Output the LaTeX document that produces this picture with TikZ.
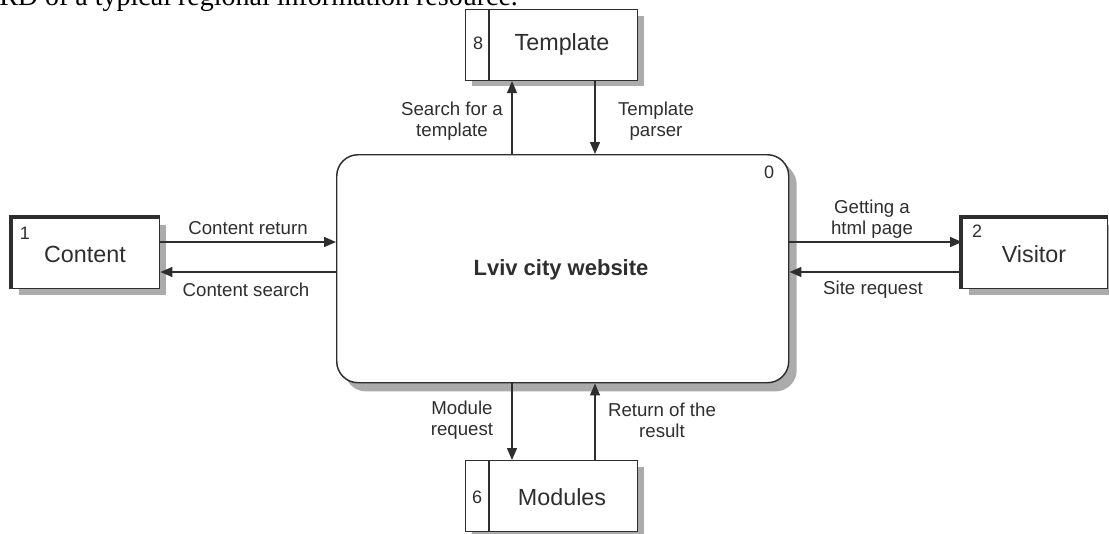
\documentclass[tikz,border=0pt]{standalone}
\usepackage{fontspec}
\setmainfont{Liberation Sans}
\newfontfamily\captionserif{Liberation Serif}
\usetikzlibrary{arrows.meta,shadows}

\definecolor{ink}{HTML}{2E2E2E}
\definecolor{shade}{HTML}{ABABAB}

\begin{document}
\begin{tikzpicture}[x=0.75pt,y=-0.75pt,
  box/.style={draw=ink, line width=1.1pt, fill=white, inner sep=0pt, anchor=north west,
    drop shadow={shadow xshift=4.5pt, shadow yshift=-4.5pt, fill=shade, opacity=1}},
  procbox/.style={box, rounded corners=16pt,
    drop shadow={shadow xshift=6pt, shadow yshift=-6.5pt, fill=shade, opacity=1}},
  entity/.style={box, minimum width=#1, minimum height=52.5pt},
  store/.style={box, minimum width=129pt, minimum height=53pt},
  heavy/.style={draw=ink, line width=3.2pt},
  divider/.style={draw=ink, line width=1.1pt},
  flow/.style={draw=ink, line width=1.1pt, -{Triangle[length=9pt,width=7.5pt]}},
  title/.style={font=\fontsize{17.5}{20}\selectfont, text=ink, inner sep=0pt},
  num/.style={font=\fontsize{13.5}{15}\selectfont, text=ink, inner sep=0pt},
  lbl/.style={font=\fontsize{14}{15.5}\selectfont, text=ink, align=center, inner sep=0pt},
]
\useasboundingbox (0,0) rectangle (1109,533);

% caption line running above the figure
\node[anchor=base west, inner sep=0pt, font=\captionserif\fontsize{21}{24}\selectfont]
  (caption) at (-1,5) {RD of a typical regional information resource.};

% central process
\node[procbox, minimum width=339pt, minimum height=171pt] (ctr) at (336,154) {};
\node[font=\bfseries\fontsize{16.5}{19}\selectfont, text=ink, inner sep=0pt] (ctrtxt) at (561,270) {Lviv city website};
\node[num] (ctrnum) at (769,172) {0};

% data stores
\node[store] (tmpl) at (465,9) {};
\draw[divider] ([xshift=18pt]tmpl.north west) -- ([xshift=18pt]tmpl.south west);
\node[num] (tmplnum) at (478,43) {8};
\node[title] (tmpltxt) at (562,44) {Template};

\node[store] (mod) at (465,460) {};
\draw[divider] ([xshift=18pt]mod.north west) -- ([xshift=18pt]mod.south west);
\node[num] (modnum) at (477,497) {6};
\node[title] (modtxt) at (562,497) {Modules};

% external entities
\node[entity=110.25pt] (cont) at (12,218) {};
\draw[heavy] ([xshift=-0.5pt]cont.south west) -- ([xshift=-0.5pt,yshift=1pt]cont.north west) -- ([yshift=1pt]cont.north east);
\node[num] (contnum) at (25,233) {1};
\node[title] (conttxt) at (85,254) {Content};

\node[entity=108.75pt] (vis) at (962,218) {};
\draw[heavy] ([xshift=-0.5pt]vis.south west) -- ([xshift=-0.5pt,yshift=1pt]vis.north west) -- ([yshift=1pt]vis.north east);
\node[num] (visnum) at (977,231) {2};
\node[title] (vistxt) at (1034,254) {Visitor};

% flow positions
\coordinate (xa) at (512,0);
\coordinate (xb) at (595,0);
\coordinate (ya) at (0,242);
\coordinate (yb) at (0,272);

% data flows
\draw[flow] (ctr.north -| xa) -- (tmpl.south -| xa);
\draw[flow] (tmpl.south -| xb) -- (ctr.north -| xb);
\draw[flow] (cont.east |- ya) -- (ctr.west |- ya);
\draw[flow] (ctr.west |- yb) -- (cont.east |- yb);
\draw[flow] (ctr.east |- ya) -- (vis.west |- ya);
\draw[flow] (vis.west |- yb) -- (ctr.east |- yb);
\draw[flow] (ctr.south -| xa) -- (mod.north -| xa);
\draw[flow] (mod.north -| xb) -- (ctr.south -| xb);

% flow labels
\node[lbl] (l1) at (452,121) {Search for a\\template};
\node[lbl] (l2) at (656,121) {Template\\parser};
\node[lbl] (l3) at (248,228) {Content return};
\node[lbl] (l4) at (246,290) {Content search};
\node[lbl] (l5) at (872,219) {Getting a\\html page};
\node[lbl] (l6) at (873,290) {Site request};
\node[lbl] (l7) at (462,420) {Module\\request};
\node[lbl] (l8) at (662,420) {Return of the\\result};
\end{tikzpicture}
\end{document}
